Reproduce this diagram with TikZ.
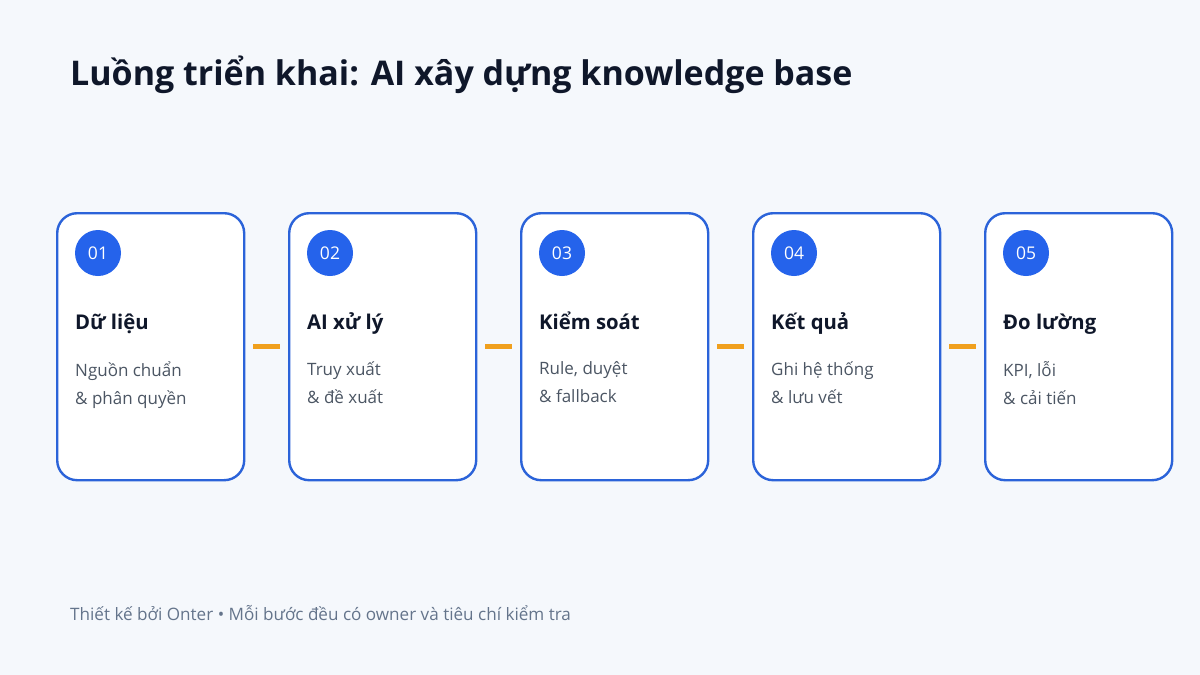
\documentclass[tikz,border=0pt]{standalone}
\usepackage{fontspec}
\setmainfont{Open Sans}
\definecolor{bg}{HTML}{F5F8FC}
\definecolor{cardline}{HTML}{2B63D9}
\definecolor{badge}{HTML}{2563EB}
\definecolor{ink}{HTML}{0F172A}
\definecolor{body}{HTML}{4B5563}
\definecolor{foot}{HTML}{64748B}
\definecolor{link}{HTML}{F0A01E}
\begin{document}
\begin{tikzpicture}[x=1pt,y=-1pt,
  card/.style={draw=cardline,line width=2.4pt,fill=white,rounded corners=20pt,minimum width=187pt,minimum height=267pt,inner sep=0pt},
  badgec/.style={circle,fill=badge,minimum size=46pt,inner sep=0pt,text=white,font=\fontsize{17.5}{20}\selectfont},
  head/.style={anchor=base west,inner sep=0pt,text=ink,font=\bfseries\fontsize{20.3}{24}\selectfont},
  desc/.style={anchor=north west,inner sep=0pt,text=body,align=left,font=\fontsize{17}{28}\selectfont},
  linkc/.style={draw=link,line width=4.5pt}]
\fill[bg] (0,0) rectangle (1200,675);
\useasboundingbox (0,0) rectangle (1200,675);
\node[anchor=west,inner sep=0pt,text=ink,font=\bfseries\fontsize{34}{40}\selectfont] (title) at (70,75) {Luồng triển khai: AI xây dựng knowledge base};
\foreach \i/\n/\h/\a/\b in {0/01/Dữ liệu/Nguồn chuẩn/\& phân quyền,
  1/02/AI xử lý/Truy xuất/\& đề xuất,
  2/03/Kiểm soát/{Rule, duyệt}/\& fallback,
  3/04/Kết quả/Ghi hệ thống/\& lưu vết,
  4/05/Đo lường/{KPI, lỗi}/\& cải tiến}{
  \pgfmathsetmacro{\cx}{56+232*\i}
  \node[card,anchor=north west] (card\i) at (\cx,212) {};
  \node[badgec] (badge\i) at (\cx+42,253) {\n};
  \node[head] (head\i) at (\cx+19,329) {\h};
  \node[desc] (desc\i) at (\cx+19,361) {\a\\\b};
}
\foreach \i [evaluate=\i as \j using int(\i+1)] in {0,...,3}{
  \coordinate (la\i) at ([xshift=8pt]card\i.east);
  \coordinate (lb\i) at ([xshift=-8pt]card\j.west);
  \draw[linkc] (la\i) -- (lb\i);
}
\node[anchor=west,inner sep=0pt,text=foot,font=\fontsize{17.1}{20}\selectfont] (footer) at (70,613) {Thiết kế bởi Onter • Mỗi bước đều có owner và tiêu chí kiểm tra};
\end{tikzpicture}
\end{document}
